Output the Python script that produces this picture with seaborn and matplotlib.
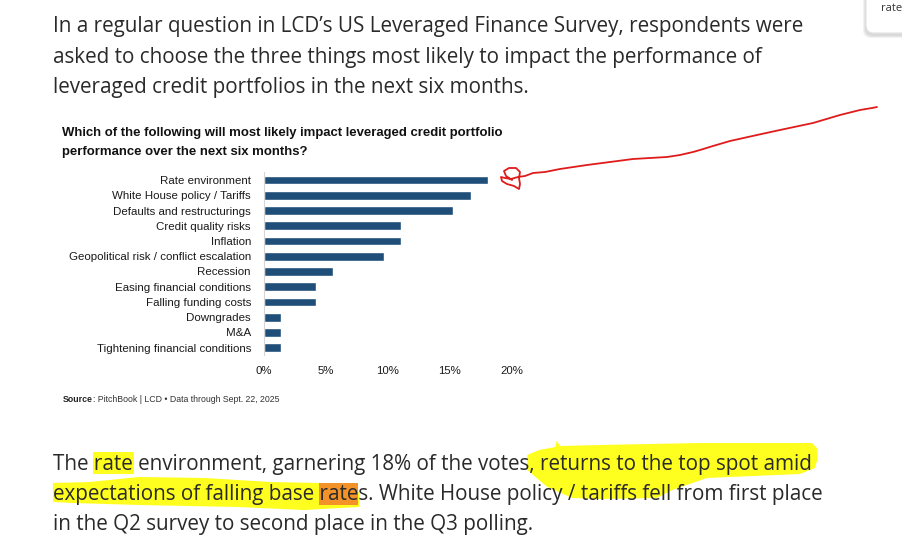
import numpy as np
import pandas as pd
import matplotlib
matplotlib.use("Agg")
import matplotlib.pyplot as plt
import seaborn as sns
from matplotlib import font_manager as fm
from matplotlib.font_manager import FontProperties
from matplotlib.patches import Polygon, Rectangle, FancyBboxPatch
from matplotlib.transforms import IdentityTransform
from matplotlib.lines import Line2D

# ---------------- data ----------------
categories = [
    "Rate environment",
    "White House policy / Tariffs",
    "Defaults and restructurings",
    "Credit quality risks",
    "Inflation",
    "Geopolitical risk / conflict escalation",
    "Recession",
    "Easing financial conditions",
    "Falling funding costs",
    "Downgrades",
    "M&A",
    "Tightening financial conditions",
]
shares = [18.1, 16.7, 15.3, 11.1, 11.1, 9.7, 5.6, 4.2, 4.2, 1.4, 1.4, 1.4]
x_ticks = [0, 5, 10, 15, 20]
x_tick_labels = ["0%", "5%", "10%", "15%", "20%"]

chart_title = ["Which of the following will most likely impact leveraged credit portfolio",
               "performance over the next six months?"]
source_bold = "Source"
source_rest = ": PitchBook | LCD \u2022 Data through Sept. 22, 2025"
intro_lines = [
    "In a regular question in LCD\u2019s US Leveraged Finance Survey, respondents were",
    "asked to choose the three things most likely to impact the performance of",
    "leveraged credit portfolios in the next six months.",
]
outro_lines = [
    "The rate environment, garnering 18% of the votes, returns to the top spot amid",
    "expectations of falling base rates. White House policy / tariffs fell from first place",
    "in the Q2 survey to second place in the Q3 polling.",
]

# ---------------- setup ----------------
W, H = 902, 557
sns.set_style("white")
BODY = ["Open Sans", "DejaVu Sans"]

fig = plt.figure(figsize=(W / 100, H / 100), dpi=100)
fig.patch.set_facecolor("white")
renderer = fig.canvas.get_renderer()
ID = IdentityTransform()


def tw(s, fam, size, weight="normal"):
    prop = FontProperties(family=fam, size=size, weight=weight)
    return renderer.get_text_width_height_descent(s, prop, ismath=False)[0]


def fit(s, fam, target, weight="normal"):
    return 10.0 * target / tw(s, fam, 10.0, weight)


# narrow grotesque for the chart text if one is installed, else Liberation Sans
avail = {f.name for f in fm.fontManager.ttflist}
chart_font = "Liberation Sans"
for name in ["Liberation Sans Narrow", "Arial Narrow", "Arimo Narrow"]:
    if name in avail:
        chart_font = name
        break
CHART = [chart_font, "DejaVu Sans"]
plt.rcParams["font.family"] = CHART


def put(x, y, s, fam, size, weight="normal", color="#222222", va="baseline", ha="left", z=5):
    return fig.text(x, H - y, s, transform=ID, family=fam, fontsize=size,
                    fontweight=weight, color=color, va=va, ha=ha, zorder=z)


# ---------------- bar chart ----------------
ax_left, ax_right = 264.0, 511.5
ax_top, ax_bot = 172.4, 355.3
ax = fig.add_axes([ax_left / W, 1 - ax_bot / H, (ax_right - ax_left) / W, (ax_bot - ax_top) / H])
df = pd.DataFrame({"category": categories, "share": shares})
sns.barplot(data=df, x="share", y="category", color="#1f4e79", saturation=1,
            width=0.57, orient="h", ax=ax)
ax.set_xlim(0, 20)
ax.set_ylim(len(categories) - 0.5, -0.5)
ax.set_xticks(x_ticks)
ax.set_xticklabels(x_tick_labels)
ax.set_xlabel("")
ax.set_ylabel("")
ax.patch.set_alpha(0)
for sp in ["top", "right", "bottom"]:
    ax.spines[sp].set_visible(False)
ax.spines["left"].set_color("#d6d6d6")
ax.spines["left"].set_linewidth(0.8)

# slightly larger than a pure width-fit, since the original face is narrower
ylab_size = min(fit("Geopolitical risk / conflict escalation", CHART, 172) * 1.06, 8.6)
xlab_size = fit("20%", CHART, 23)
ax.tick_params(axis="y", length=0, pad=9.4, labelsize=ylab_size, labelcolor="#1a1a1a")
ax.tick_params(axis="x", length=0, pad=7.5, labelsize=xlab_size, labelcolor="#1a1a1a")
for lab in ax.get_yticklabels() + ax.get_xticklabels():
    lab.set_family(CHART)

# chart title and source
title_size = fit(chart_title[0], CHART, 445, "bold")
put(62.5, 136, chart_title[0], CHART, title_size, "bold", color="#111111")
put(62.5, 154.5, chart_title[1], CHART, title_size, "bold", color="#111111")

src_size = fit(source_bold + source_rest, CHART, 217)
put(62.5, 401.5, source_bold, CHART, src_size, "bold", color="#222222")
bw = tw(source_bold, CHART, src_size, "bold")
put(62.5 + bw + 0.5, 401.5, source_rest, CHART, src_size, color="#333333")

# ---------------- body text ----------------
body_size = fit(intro_lines[0], BODY, 750)
body_color = "#2a2a2a"
for i, line in enumerate(intro_lines):
    put(53, 32 + 30.5 * i, line, BODY, body_size, color=body_color)

base_y = [470, 500, 530]
for i, line in enumerate(outro_lines):
    put(53, base_y[i], line, BODY, body_size, color=body_color)


def span(line, upto, word):
    end = 53 + tw(line[:upto], BODY, body_size)
    start = end - tw(word, BODY, body_size)
    return start, end


def remap(pts, r0_, r1_, a, b):
    return [(a + (x - r0_) / (r1_ - r0_) * (b - a), H - y) for x, y in pts]


YEL = "#ffff1f"
# yellow word highlight "rate" on line 1
l1 = outro_lines[0]
i_rate = l1.index("rate") + 4
r0, r1 = span(l1, i_rate, "rate")
fig.patches.append(Rectangle((r0 - 1, H - 474), (r1 - r0) + 2, 22, transform=ID,
                             facecolor=YEL, edgecolor="none", zorder=1))

# brush 1: ", returns to the top spot amid"
_, b1_end = span(l1, len(l1), "amid")
i_c = l1.index(", returns") + 1
c_start, _ = span(l1, i_c, ",")
brush1 = [(528, 455), (540, 450), (556, 447), (557, 441), (561, 446), (600, 445), (700, 443),
          (780, 443), (812, 443), (817, 448), (818, 458), (815, 468), (800, 474), (707, 478),
          (673, 490), (657, 498), (600, 499), (573, 498), (548, 487), (535, 476), (528, 470)]
fig.patches.append(Polygon(remap(brush1, 528.0, 812.0, c_start - 2, b1_end), closed=True,
                           transform=ID, facecolor=YEL, edgecolor="none", zorder=1))

# brush 2: "expectations of falling base rat"
l2 = outro_lines[1]
i_rates = l2.index("rates") + 4
o0, o1 = span(l2, i_rates, "rate")
brush2 = [(53, 483), (90, 482), (140, 477), (207, 478), (273, 482), (323, 483), (360, 485),
          (363, 495), (363, 507), (307, 510), (240, 507), (140, 505), (73, 503), (53, 502)]
fig.patches.append(Polygon(remap(brush2, 53, 362, 53, o1), closed=True,
                           transform=ID, facecolor=YEL, edgecolor="none", zorder=1))
fig.patches.append(Rectangle((o0 - 1, H - 505), (o1 - o0) + 1, 22, transform=ID,
                             facecolor="#f4922a", edgecolor="none", zorder=2))

# ---------------- red hand-drawn annotation ----------------
red_pts = [(512, 180), (506, 176), (504, 171), (509, 168), (516, 168), (520, 172), (519, 178),
           (520, 184), (519, 189), (514, 186), (507, 184), (502, 181), (501, 177), (505, 178),
           (511, 179), (518, 177), (525, 176), (533, 173), (545, 172), (560, 169), (587, 165),
           (610, 162), (633, 159), (667, 157), (680, 155), (693, 152), (700, 150), (713, 146),
           (730, 141), (757, 135), (780, 130), (813, 123), (840, 115), (860, 110), (872, 108),
           (877, 107)]
fig.lines.append(Line2D([p[0] for p in red_pts], [H - p[1] for p in red_pts], transform=ID,
                        color="#e01b1b", linewidth=1.3, solid_joinstyle="round", zorder=6))

# ---------------- top-right popover ----------------
for k in range(3):
    fig.patches.append(FancyBboxPatch((866 - 1 - k, H - 34 - 2 - k), 60, 60,
                                      boxstyle="round,pad=0,rounding_size=8", transform=ID,
                                      facecolor="#000000", alpha=0.05, edgecolor="none", zorder=7))
fig.patches.append(FancyBboxPatch((866, H - 33), 60, 60, boxstyle="round,pad=0,rounding_size=8",
                                  transform=ID, facecolor="white", edgecolor="#e4e4e4",
                                  linewidth=0.8, zorder=8))
put(881, 11, "rate", BODY, 8, color="#333333", z=9)

fig.savefig("out.png", dpi=100, facecolor="white")
